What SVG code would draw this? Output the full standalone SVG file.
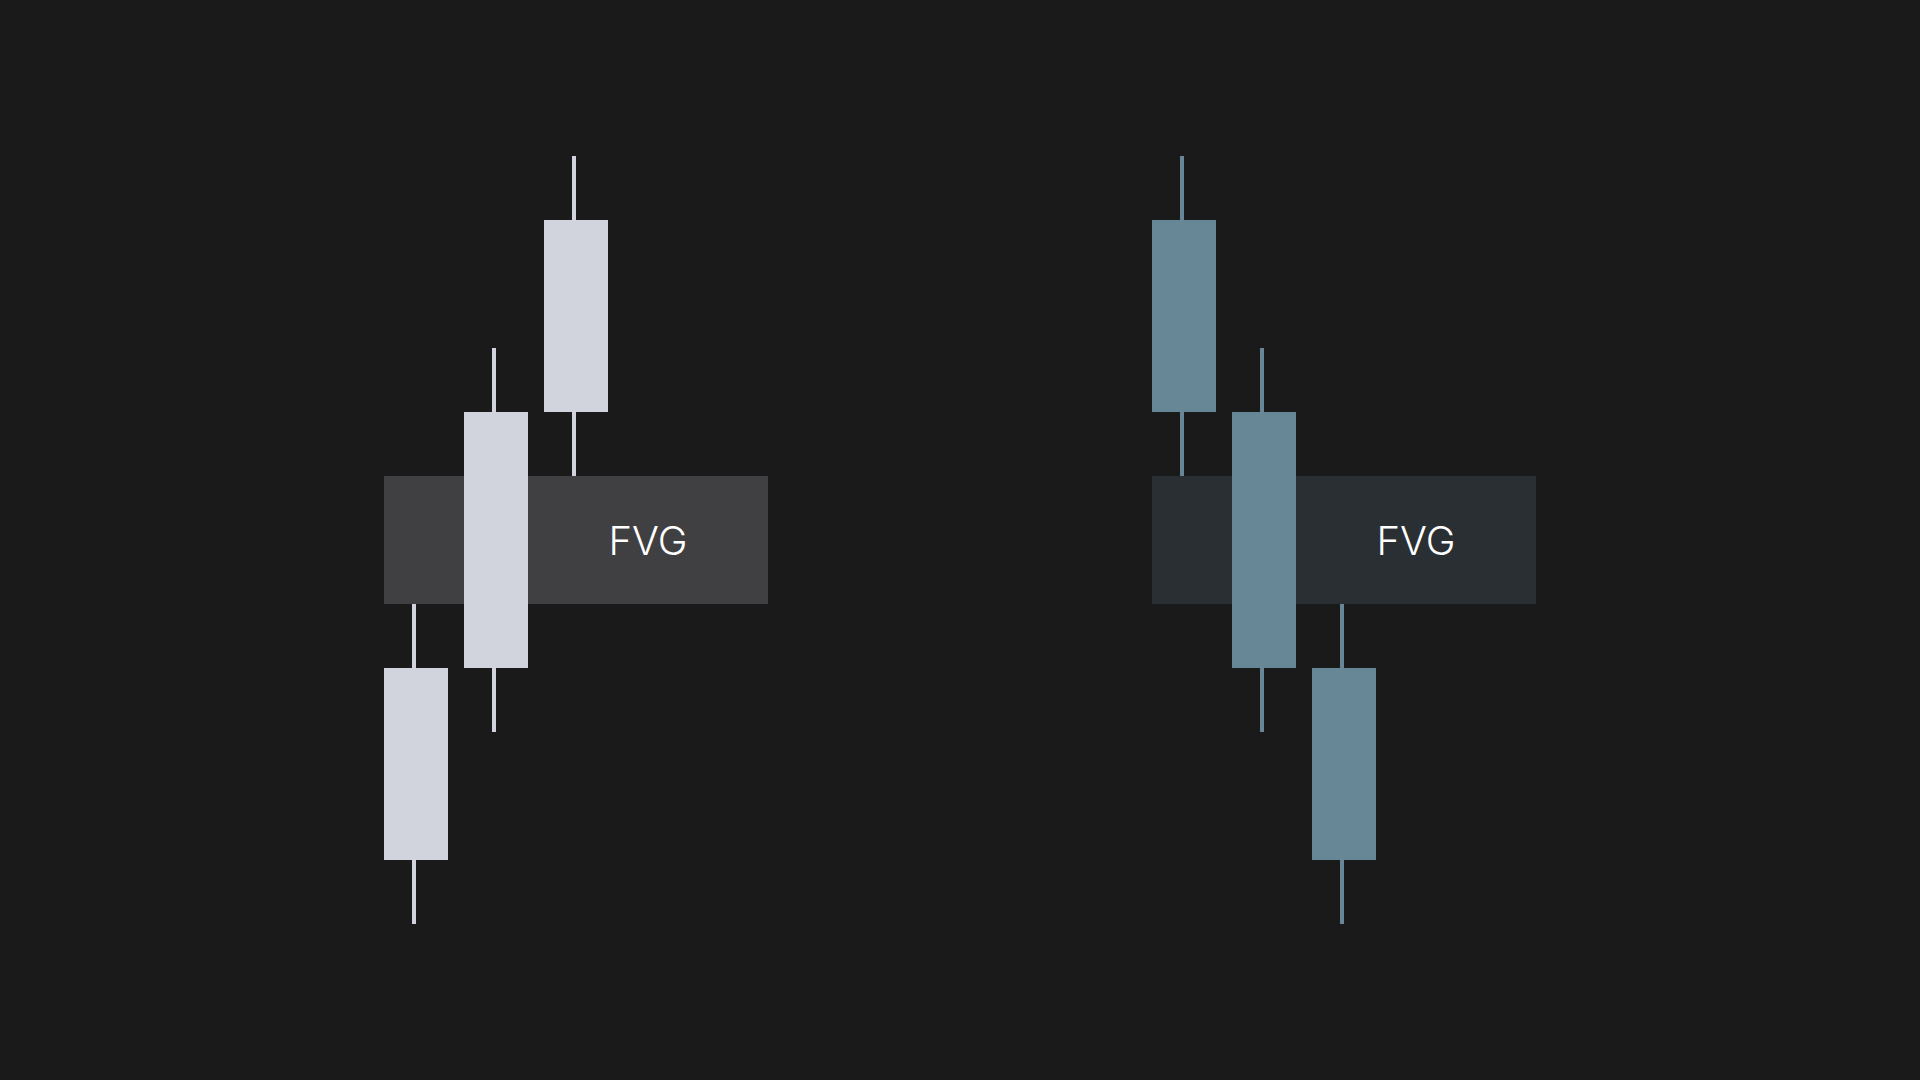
<svg xmlns="http://www.w3.org/2000/svg" width="1920" height="1080" viewBox="0 0 1920 1080">
  <style>
    .bull { fill: #D1D4DC; }
    .bear { fill: #678797; }
    .lbl { font-family: Inter, "Liberation Sans", sans-serif; font-size: 40px; font-weight: 300; fill: #FFFFFF; text-anchor: middle; dominant-baseline: central; }
  </style>
  <rect x="0" y="0" width="1920" height="1080" fill="#1A1A1A"/>

  <g id="bullish-fvg">
    <rect id="fvg-bull-zone" x="384" y="476" width="384" height="128" fill="#404042"/>
    <g id="bull-candle-1" class="bull">
      <rect x="412" y="604" width="4" height="320"/>
      <rect x="384" y="668" width="64" height="192"/>
    </g>
    <g id="bull-candle-2" class="bull">
      <rect x="492" y="348" width="4" height="384"/>
      <rect x="464" y="412" width="64" height="256"/>
    </g>
    <g id="bull-candle-3" class="bull">
      <rect x="572" y="156" width="4" height="320"/>
      <rect x="544" y="220" width="64" height="192"/>
    </g>
    <text class="lbl" x="648" y="540">FVG</text>
  </g>

  <g id="bearish-fvg">
    <rect id="fvg-bear-zone" x="1152" y="476" width="384" height="128" fill="#2A2F33"/>
    <g id="bear-candle-1" class="bear">
      <rect x="1180" y="156" width="4" height="320"/>
      <rect x="1152" y="220" width="64" height="192"/>
    </g>
    <g id="bear-candle-2" class="bear">
      <rect x="1260" y="348" width="4" height="384"/>
      <rect x="1232" y="412" width="64" height="256"/>
    </g>
    <g id="bear-candle-3" class="bear">
      <rect x="1340" y="604" width="4" height="320"/>
      <rect x="1312" y="668" width="64" height="192"/>
    </g>
    <text class="lbl" x="1416" y="540">FVG</text>
  </g>

  <g id="connectors"/>
</svg>
